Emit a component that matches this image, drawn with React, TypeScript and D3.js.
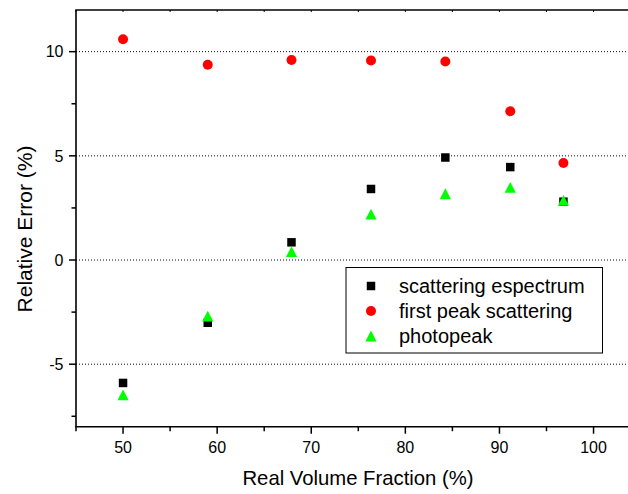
import * as d3 from 'd3';
import React from 'react';

// real volume fraction (%) for each sample
const fractions = [50, 59, 67.9, 76.35, 84.25, 91.15, 96.8];

// relative error (%) per method
const espectrum = [-5.9, -3.01, 0.85, 3.41, 4.92, 4.46, 2.8];
const firstPeak = [10.6, 9.37, 9.6, 9.58, 9.53, 7.14, 4.66];
const photopeak = [-6.47, -2.69, 0.4, 2.2, 3.18, 3.49, 2.86];

const xTicks = [50, 60, 70, 80, 90, 100];
const xMinor = [45, 55, 65, 75, 85, 95, 105];
const yTicks = [-5, 0, 5, 10];
const yMinor = [-7.5, -2.5, 2.5, 7.5];

const legendLabels = ['scattering espectrum', 'first peak scattering', 'photopeak'];

const width = 628;
const height = 494;
const font = '"Liberation Sans", Arial, sans-serif';

const x = d3.scaleLinear().domain([45, 105]).range([76, 640.6]);
const y = d3.scaleLinear().domain([-8, 12]).range([426.7, 10]);

const squarePath = d3.symbol(d3.symbolSquare, 72)();
const circlePath = d3.symbol(d3.symbolCircle, Math.PI * 25)();
// triangle centred on its bounding box, like the origin marker
const triPath = 'M0,-5.4L5.6,5.4L-5.6,5.4Z';

function Marker({ kind, cx, cy }: { kind: number; cx: number; cy: number }) {
  if (kind === 0) return <path d={squarePath!} transform={`translate(${cx},${cy})`} fill="#000" />;
  if (kind === 1) return <path d={circlePath!} transform={`translate(${cx},${cy})`} fill="#ff0000" />;
  return <path d={triPath} transform={`translate(${cx},${cy})`} fill="#00ff00" />;
}

export default function App() {
  const series = [espectrum, firstPeak, photopeak];
  const left = x(45);
  const bottom = y(-8);
  const top = y(12);
  const right = x(105);

  return (
    <svg width={width} height={height} style={{ position: 'absolute', left: 0, top: 0, background: '#fff' }}>
      <rect width={width} height={height} fill="#fff" />

      {/* dotted grid on major y ticks */}
      {yTicks.map(t => (
        <line key={'g' + t} x1={left} x2={right} y1={y(t)} y2={y(t)}
          stroke="#000" strokeWidth={1} strokeDasharray="1,2" />
      ))}

      {/* axes frame (left, bottom, top) */}
      <line x1={left} x2={left} y1={top} y2={bottom} stroke="#000" strokeWidth={1.6} />
      <line x1={left - 0.8} x2={right} y1={bottom} y2={bottom} stroke="#000" strokeWidth={1.6} />
      <line x1={left - 0.8} x2={right} y1={top} y2={top} stroke="#000" strokeWidth={1.6} />

      {/* x ticks */}
      {xTicks.map(t => (
        <g key={'x' + t}>
          <line x1={x(t)} x2={x(t)} y1={bottom} y2={bottom + 7} stroke="#000" strokeWidth={1.5} />
          <line x1={x(t)} x2={x(t)} y1={top} y2={top + 2} stroke="#000" strokeWidth={1} />
          <text x={x(t)} y={453} textAnchor="middle" fontFamily={font} fontSize={16} fill="#000">{t}</text>
        </g>
      ))}
      {xMinor.map(t => (
        <g key={'xm' + t}>
          <line x1={x(t)} x2={x(t)} y1={bottom} y2={bottom + 4.5} stroke="#000" strokeWidth={1.5} />
          <line x1={x(t)} x2={x(t)} y1={top} y2={top + 2} stroke="#000" strokeWidth={1} />
        </g>
      ))}

      {/* y ticks */}
      {yTicks.map(t => (
        <g key={'y' + t}>
          <line x1={left - 7} x2={left} y1={y(t)} y2={y(t)} stroke="#000" strokeWidth={1.5} />
          <text x={63.5} y={y(t) + 5.7} textAnchor="end" fontFamily={font} fontSize={16} fill="#000">{t}</text>
        </g>
      ))}
      {yMinor.map(t => (
        <line key={'ym' + t} x1={left - 4.5} x2={left} y1={y(t)} y2={y(t)} stroke="#000" strokeWidth={1.5} />
      ))}

      {/* data */}
      {series.map((vals, k) => (
        <g key={'s' + k}>
          {vals.map((v, i) => (
            <Marker key={i} kind={k} cx={x(fractions[i])} cy={y(v)} />
          ))}
        </g>
      ))}

      {/* legend */}
      <rect x={346} y={267.5} width={256.5} height={85.5} fill="#fff" stroke="#000" strokeWidth={1} />
      {legendLabels.map((label, k) => (
        <g key={'l' + k}>
          <Marker kind={k} cx={371} cy={286 + k * 25} />
          <text x={399} y={293 + k * 25} fontFamily={font} fontSize={20} fill="#000">{label}</text>
        </g>
      ))}

      {/* axis titles */}
      <text x={358} y={485} textAnchor="middle" fontFamily={font} fontSize={20.3} fill="#000">
        Real Volume Fraction (%)
      </text>
      <text transform={`translate(32,229) rotate(-90)`} textAnchor="middle" fontFamily={font} fontSize={21} fill="#000">
        Relative Error (%)
      </text>
    </svg>
  );
}
